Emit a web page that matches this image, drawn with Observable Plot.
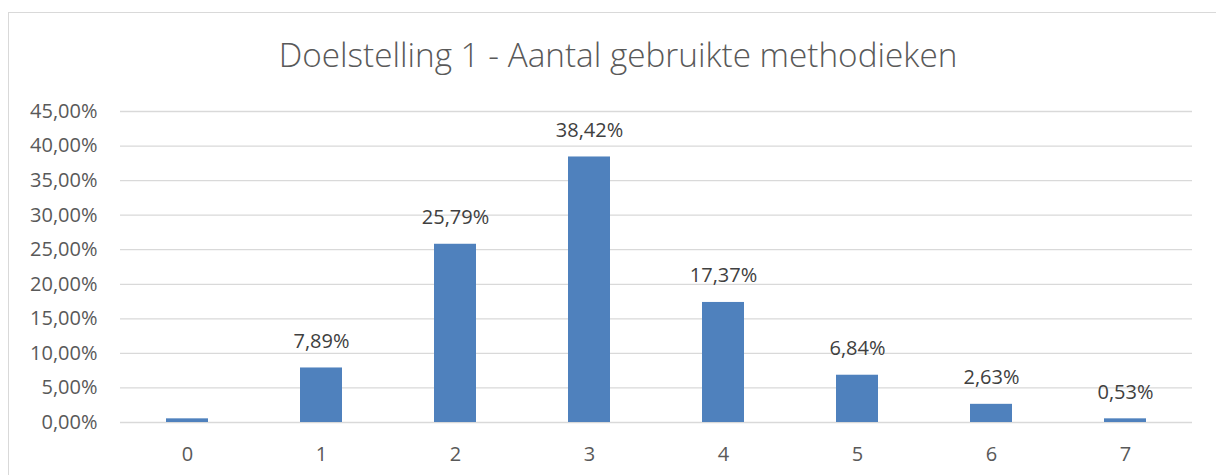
<!DOCTYPE html>
<html>
<head>
<meta charset="utf-8">
<script src="https://cdn.jsdelivr.net/npm/d3@7"></script>
<script src="https://cdn.jsdelivr.net/npm/@observablehq/plot@0.6"></script>
<style>
  html, body { margin: 0; padding: 0; background: #fff; }
  #wrap { position: relative; width: 1216px; height: 475px; overflow: hidden; font-family: "Open Sans", sans-serif; }
  #frame { position: absolute; left: 8px; top: 12px; width: 1240px; height: 500px; border-left: 1px solid #d9d9d9; border-top: 1px solid #d9d9d9; }
  #title { position: absolute; left: 0; width: 1236px; top: 31px; text-align: center; font-size: 33.3px; color: #595959; font-weight: 300; white-space: nowrap; }
  #chart { position: absolute; left: 0; top: 0; }
</style>
</head>
<body>
<div id="wrap">
  <div id="frame"></div>
  <div id="chart"></div>
  <div id="title">Doelstelling 1 - Aantal gebruikte methodieken</div>
</div>
<script>
const categories = ["0", "1", "2", "3", "4", "5", "6", "7"];
const values = [0.53, 7.89, 25.79, 38.42, 17.37, 6.84, 2.63, 0.53];
const showLabel = [false, true, true, true, true, true, true, true];
const yTicks = [0, 5, 10, 15, 20, 25, 30, 35, 40, 45];

const fmt = v => v.toFixed(2).replace(".", ",") + "%";
const data = categories.map((c, i) => ({cat: c, value: values[i], show: showLabel[i]}));

const chart = Plot.plot({
  width: 1216,
  height: 475,
  marginTop: 111,
  marginBottom: 53,
  marginLeft: 120,
  marginRight: 24,
  style: {fontFamily: "'Open Sans', sans-serif", fontSize: "20px", color: "#595959", background: "transparent"},
  x: {domain: categories, paddingInner: 0.69, paddingOuter: 0.345, label: null, tickSize: 0, tickPadding: 24},
  y: {domain: [0, 45], ticks: yTicks, tickFormat: fmt, label: null, tickSize: 0, tickPadding: 23},
  marks: [
    Plot.gridY(yTicks, {stroke: "#d9d9d9", strokeOpacity: 1, strokeWidth: 1.3}),
    Plot.barY(data, {x: "cat", y: "value", fill: "#4f81bd"}),
    Plot.text(data.filter(d => d.show), {x: "cat", y: "value", text: d => fmt(d.value), lineAnchor: "bottom", dy: -20, fill: "#404040", fontSize: 20})
  ]
});
document.getElementById("chart").appendChild(chart);
</script>
</body>
</html>
